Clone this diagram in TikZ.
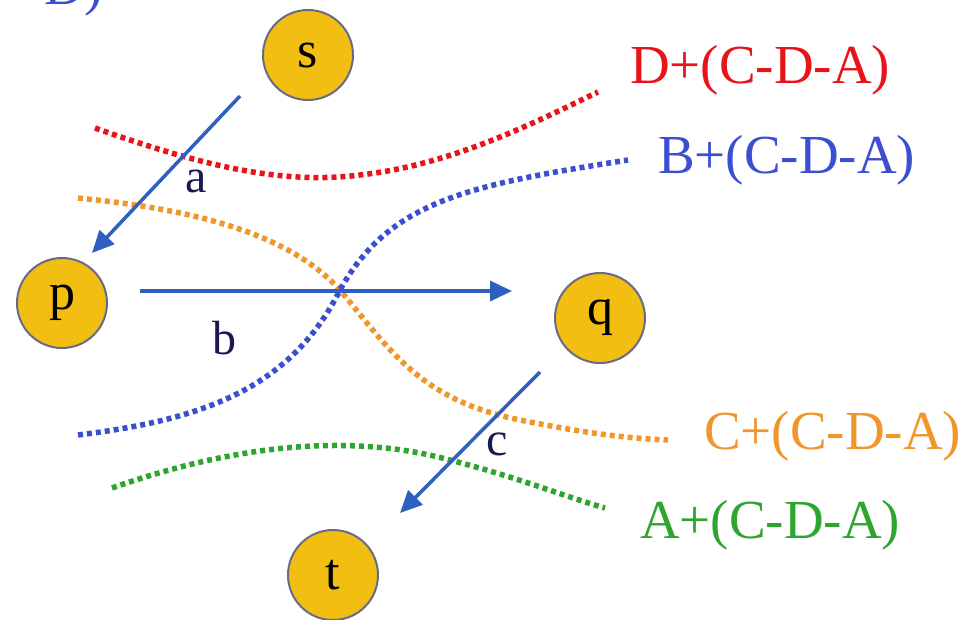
\documentclass[tikz,border=0pt]{standalone}
\usepackage{fontspec}
\setmainfont{Liberation Serif}
\usetikzlibrary{arrows.meta}
\definecolor{gold}{HTML}{F2BE12}
\definecolor{rim}{HTML}{6A6A88}
\definecolor{arrowblue}{HTML}{2F5FC0}
\definecolor{cred}{HTML}{E8141A}
\definecolor{cblue}{HTML}{3B4FD0}
\definecolor{corange}{HTML}{F0962A}
\definecolor{cgreen}{HTML}{2EA52E}
\definecolor{navy}{HTML}{1A1A50}
\tikzset{
  vertex/.style={circle, fill=gold, draw=rim, line width=2pt, minimum size=90pt, inner sep=0pt, font=\fontsize{52}{54}\selectfont, text=black},
  flow/.style={draw=arrowblue, line width=3.5pt, -{Triangle[length=22pt,width=20pt]}},
  cutline/.style={line width=5.5pt, dash pattern=on 5pt off 4pt},
  elabel/.style={text=navy, font=\fontsize{48}{50}\selectfont, inner sep=0pt},
  clabel/.style={font=\fontsize{55}{58}\selectfont, inner sep=0pt, anchor=west}
}
\begin{document}
\begin{tikzpicture}[x=1pt,y=-1pt]
\useasboundingbox (0,0) rectangle (966,619);
\fill[white] (0,0) rectangle (966,619);
% cut-off label at top left
\node[clabel, text=cblue, anchor=base east] (top) at (103,4) {-D)};
% cut curves
\draw[cutline, cred] (95,128) .. controls (200,165) and (280,185) .. (360,175) .. controls (450,165) and (530,125) .. (598,92);
\draw[cutline, corange] (78,198) .. controls (200,210) and (290,235) .. (340,290) .. controls (390,350) and (420,400) .. (520,420) .. controls (580,432) and (620,438) .. (668,440);
\draw[cutline, cblue] (78,435) .. controls (200,420) and (290,390) .. (340,290) .. controls (390,200) and (470,185) .. (628,160);
\draw[cutline, cgreen] (112,488) .. controls (220,450) and (340,430) .. (450,460) .. controls (520,478) and (560,495) .. (605,508);
% vertices
\node[vertex] (s) at (308,55) {s};
\node[vertex] (p) at (62,303) {p};
\node[vertex] (q) at (600,318) {q};
\node[vertex] (t) at (333,575) {t};
% edges
\coordinate (a1) at (240,96);
\coordinate (a2) at (92,253);
\coordinate (b1) at (140,291);
\coordinate (b2) at (512,291);
\coordinate (c1) at (540,372);
\coordinate (c2) at (400,513);
\draw[flow] (a1) -- (a2);
\draw[flow] (b1) -- (b2);
\draw[flow] (c1) -- (c2);
\node[elabel] (la) at (196,181) {a};
\node[elabel] (lb) at (224,338) {b};
\node[elabel] (lc) at (497,444) {c};
% cut labels
\node[clabel, text=cred] (ld) at (630,70) {D+(C-D-A)};
\node[clabel, text=cblue] (lbb) at (658,160) {B+(C-D-A)};
\node[clabel, text=corange] (lcc) at (704,436) {C+(C-D-A)};
\node[clabel, text=cgreen] (laa) at (640,525) {A+(C-D-A)};
\end{tikzpicture}
\end{document}
